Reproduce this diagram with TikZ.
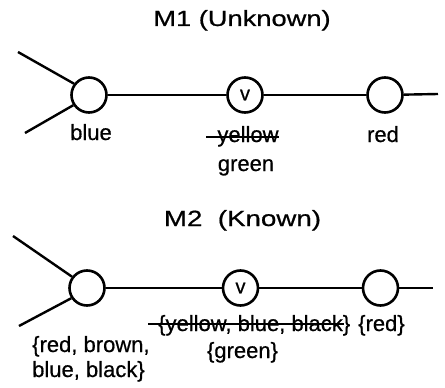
\documentclass[tikz,border=0pt]{standalone}
\usepackage{fontspec}
\setmainfont{Liberation Sans}[FakeBold=0.6]
\begin{document}
\begin{tikzpicture}[x=1pt,y=-1pt,
  wire/.style={line width=2.4pt},
  junction/.style={circle,draw,line width=2.6pt,minimum size=35pt,inner sep=0pt},
  lbl/.style={inner sep=0pt,font=\fontsize{22}{25}\selectfont},
  ttl/.style={inner sep=0pt,font=\fontsize{22}{25}\selectfont},
  strike/.style={line width=1.6pt}]
\useasboundingbox (0,0) rectangle (445,388);
% ---- M1
\node[ttl,anchor=base] (t1) at (242,26) {\scalebox{1.24}[1]{M1 (Unknown)}};
\node[junction] (a1) at (89,95) {};
\node[junction] (a2) at (245,95) {\fontsize{20}{24}\selectfont v};
\node[junction] (a3) at (385,95) {};
\coordinate (a0t) at (18,52);
\coordinate (a0b) at (25,133);
\coordinate (a4) at (438,94);
\draw[wire] (a0t) -- (a1.143);
\draw[wire] (a0b) -- (a1.213);
\draw[wire] (a1) -- (a2);
\draw[wire] (a2) -- (a3);
\draw[wire] (a3) -- (a4);
\node[lbl,anchor=base] (l1) at (91,140) {blue};
\node[lbl,anchor=base] (l2) at (248,142) {yellow};
\node[lbl,anchor=base] (l3) at (246,171) {green};
\node[lbl,anchor=base] (l4) at (383,142) {red};
\draw[strike] ([xshift=-11pt,yshift=5pt]l2.base west) -- ([yshift=5pt]l2.base east);
% ---- M2
\node[ttl,anchor=base] (t2) at (242.5,226) {\scalebox{1.26}[1]{M2~~(Known)}};
\node[junction] (b1) at (87,288) {};
\node[junction] (b2) at (240.5,288) {\fontsize{20}{24}\selectfont v};
\node[junction] (b3) at (380.5,288) {};
\coordinate (b0t) at (13,236);
\coordinate (b0b) at (19,326);
\coordinate (b4) at (433,288);
\draw[wire] (b0t) -- (b1.143);
\draw[wire] (b0b) -- (b1.213);
\draw[wire] (b1) -- (b2);
\draw[wire] (b2) -- (b3);
\draw[wire] (b3) -- (b4);
\node[lbl,anchor=base west,align=left] (m1) at (32,377) {\{red, brown,\\blue, black\}};
\node[lbl,anchor=base west] (m2) at (158,331) {\{yellow, blue, black\}};
\node[lbl,anchor=base west] (m3) at (358,331) {\{red\}};
\node[lbl,anchor=base] (m4) at (242.5,358) {\{green\}};
\draw[strike] ([xshift=-10pt,yshift=7pt]m2.base west) -- ([xshift=-6pt,yshift=7pt]m2.base east);
\end{tikzpicture}
\end{document}
